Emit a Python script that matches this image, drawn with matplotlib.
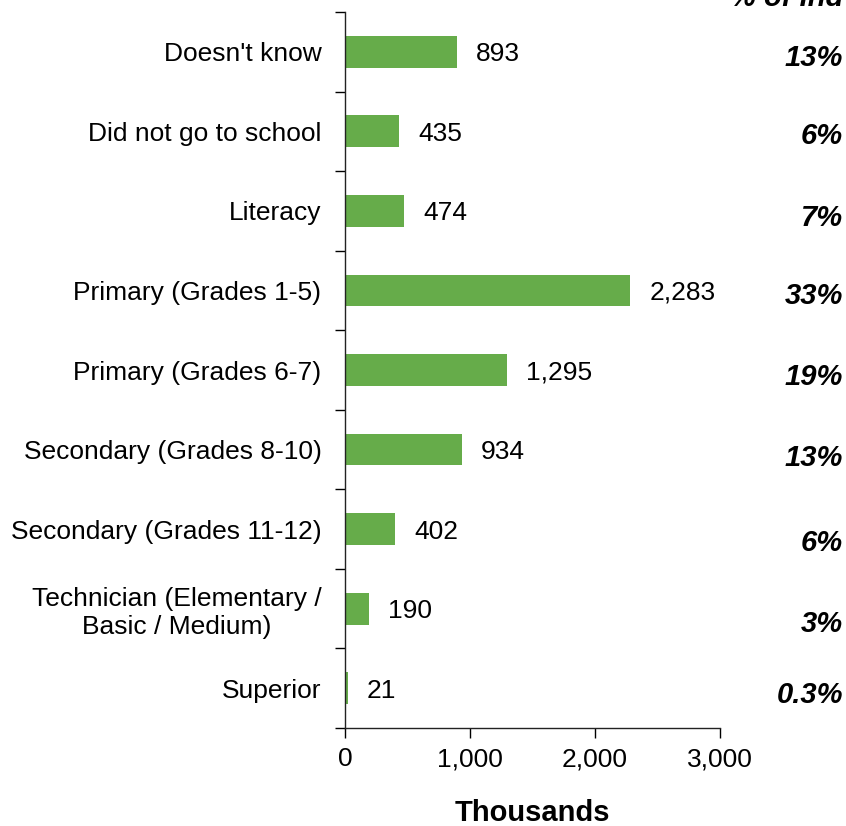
import matplotlib
matplotlib.use("Agg")
import matplotlib.pyplot as plt
import numpy as np

plt.rcParams['font.family'] = ['Liberation Sans', 'DejaVu Sans']

categories = [
    "Doesn't know",
    "Did not go to school",
    "Literacy",
    "Primary (Grades 1-5)",
    "Primary (Grades 6-7)",
    "Secondary (Grades 8-10)",
    "Secondary (Grades 11-12)",
    "Technician (Elementary /\nBasic / Medium)",
    "Superior",
]
values = [893, 435, 474, 2283, 1295, 934, 402, 190, 21]
shares = ["13%", "6%", "7%", "33%", "19%", "13%", "6%", "3%", "0.3%"]
x_ticks = [0, 1000, 2000, 3000]
x_tick_labels = ["0", "1,000", "2,000", "3,000"]

bar_color = "#66AC4A"

fig = plt.figure(figsize=(8.46, 8.26), dpi=100)
ax = fig.add_axes([0.4078, 0.1186, 0.4433, 0.8669])

n = len(categories)
y = np.arange(n)
ax.barh(y, values, height=0.4, color=bar_color)
ax.set_ylim(n - 0.5, -0.5)
ax.set_xlim(0, 3000)

# value labels to the right of each bar
for yi, v in zip(y, values):
    ax.annotate(f"{v:,}", xy=(v, yi), xytext=(14, 0), textcoords="offset points",
                va="center_baseline", ha="left", fontsize=19)

# share column on the far right
share_dy = [-2, -1, -3, -2, -3, -4, -8, -9, -3]
for yi, s, dy in zip(y, shares, share_dy):
    ax.annotate(s, xy=(1.0, yi), xycoords=("figure fraction", "data"),
                xytext=(-2, dy), textcoords="offset points",
                ha="right", va="center_baseline", fontsize=21, fontweight="bold",
                fontstyle="italic")

fig.text(0.997, 1.003, "% of Ind", ha="right", va="center", fontsize=21,
         fontweight="bold", fontstyle="italic")

# category labels centred in bands, tick marks on band boundaries
ax.set_yticks(y)
ax.set_yticklabels(categories, fontsize=19)
ax.set_yticks(np.arange(-0.5, n, 1.0), minor=True)
ax.tick_params(axis="y", which="minor", length=7, width=1, direction="out")
ax.tick_params(axis="y", which="major", length=0, pad=17)
for lbl in ax.get_yticklabels():
    lbl.set_horizontalalignment("right")
    lbl.set_multialignment("center")

ax.set_xticks(x_ticks)
ax.set_xticklabels(x_tick_labels, fontsize=19)
ax.tick_params(axis="x", length=7, width=1, direction="out", pad=7)

ax.spines["top"].set_visible(False)
ax.spines["right"].set_visible(False)
for s in ("left", "bottom"):
    ax.spines[s].set_linewidth(1)
    ax.spines[s].set_color("#222222")

ax.set_xlabel("Thousands", fontsize=21, fontweight="bold", labelpad=20)

fig.savefig("out.png", dpi=100)
